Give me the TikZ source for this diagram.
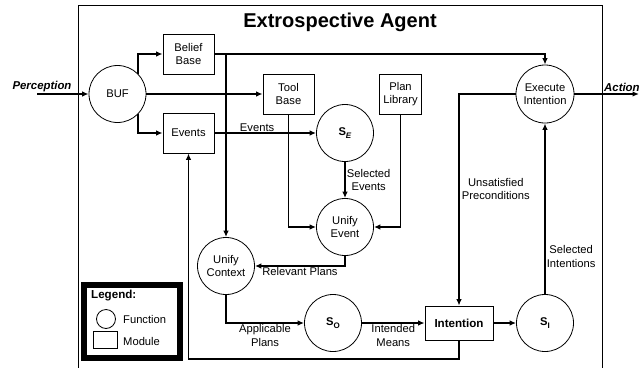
\documentclass[tikz,border=0pt]{standalone}
\usepackage{fontspec}
\setmainfont{Liberation Sans}
\usetikzlibrary{shapes, arrows.meta, positioning}
\tikzstyle{block} = [draw, line width=0.8pt, fill=white, rectangle, minimum width=51pt, minimum height=40pt, align=center, inner sep=1pt]
\tikzstyle{func} = [draw, line width=0.8pt, fill=white, circle, minimum size=57pt, align=center, inner sep=0pt]
\tikzstyle{flow} = [line width=1.7pt, -{Latex[length=6.5pt,width=5.5pt]}]
\newcommand{\selfn}[1]{\textbf{S}\raisebox{-0.4ex}{\fontsize{8}{8}\selectfont\textbf{#1}}}

\begin{document}
\begin{tikzpicture}[x=1pt, y=-1pt, font=\fontsize{11.2}{13.5}\selectfont]
    \useasboundingbox (0,0) rectangle (639,367);
    \draw [line width=0.8pt] (78,380) -- (78,5) -- (602,5) -- (602,380);
    \node [font=\bfseries\fontsize{20}{24}\selectfont] (title) at (340,22) {Extrospective Agent};

    \node [func, minimum size=57pt] (buf) at (117.5,94) {BUF};
    \node [block] (belief) at (188.5,54) {Belief\\Base};
    \node [block, below of=belief, node distance=79pt] (events) {Events};
    \node [block] (tool) at (288.5,94) {Tool\\Base};
    \node [block, minimum width=42pt, right of=tool, node distance=112pt] (plan) {Plan\\Library};
    \node [func, right of=events, node distance=156.5pt] (se) {\selfn{\textit{E}}};
    \node [func, below of=se, node distance=94pt] (unifyev) {Unify\\Event};
    \node [func] (ctx) at (226,266) {Unify\\Context};
    \node [func] (so) at (333,323) {\selfn{O}};
    \node [block, minimum width=68pt, minimum height=34pt, font=\bfseries\fontsize{11.6}{13.5}\selectfont, right of=so, node distance=126pt] (intention) {Intention};
    \node [func, right of=intention, node distance=86pt] (si) {\selfn{I}};
    \node [func, minimum size=58pt, above of=si, node distance=229pt] (exec) {Execute\\Intention};

    % inputs and outputs
    \node [font=\bfseries\itshape\fontsize{11.4}{13.5}\selectfont] (perc) at (42,87) {Perception};
    \coordinate (pin) at (37,94);
    \draw [flow] (pin) -- (buf.west);
    \coordinate (pout) at (639,94);
    \draw [flow] (exec.east) -- (pout);
    \node [font=\bfseries\itshape\fontsize{11.4}{13.5}\selectfont, anchor=west, inner sep=0pt] (act) at (604,87) {Action};

    \draw [flow] (buf.north east) |- (belief.west);
    \draw [flow] (buf.east) -- (tool.west);
    \draw [flow] (buf.south east) |- (events.west);
    \draw [flow] (belief.east) -| (exec.north);
    \draw [flow] (belief.east -| ctx.north) -- (ctx.north);
    \draw [flow] (events.east) -- node [above, pos=0.42, inner sep=0.5pt] {Events} (se.west);
    \draw [flow] (tool.south) |- (unifyev.west);
    \draw [flow] (plan.south) |- (unifyev.east);
    \draw [flow] (se.south) -- node [right, align=center, inner sep=1pt] {Selected\\Events} (unifyev.north);
    \draw [flow] (unifyev.south) |- node [below, pos=0.75, inner sep=0.5pt] {Relevant Plans} (ctx.east);
    \draw [flow] (ctx.south) |- node [below, pos=0.75, align=center, inner sep=1pt] {Applicable\\Plans} (so.west);
    \draw [flow] (so.east) -- node [below, align=center, inner sep=1pt] {Intended\\Means} (intention.west);
    \draw [flow] (intention.east) -- (si.west);
    \draw [flow] (si.north) -- node [right, pos=0.22, align=center, inner sep=1pt] {Selected\\Intentions} (exec.south);
    \draw [flow] (exec.west) -| node [right, pos=0.725, align=center, inner sep=2pt] {Unsatisfied\\Preconditions} (intention.north);
    \coordinate (back) at (188.5,359);
    \draw [flow] (intention.south) |- (back) -- (events.south);

    % legend
    \draw [line width=6pt] (84,285) rectangle (180,358);
    \node [font=\bfseries\fontsize{11.6}{13.5}\selectfont, anchor=west, inner sep=0pt] (legtitle) at (91,296) {Legend:};
    \node [draw, line width=0.8pt, circle, minimum size=19pt, inner sep=0pt] (legfunc) at (106,319) {};
    \node [anchor=west, inner sep=0pt] (funclbl) at (123,319) {Function};
    \node [draw, line width=0.8pt, rectangle, minimum width=24pt, minimum height=17pt, inner sep=0pt] (legmod) at (105,339.5) {};
    \node [anchor=west, inner sep=0pt] (modlbl) at (123,341) {Module};
\end{tikzpicture}
\end{document}
